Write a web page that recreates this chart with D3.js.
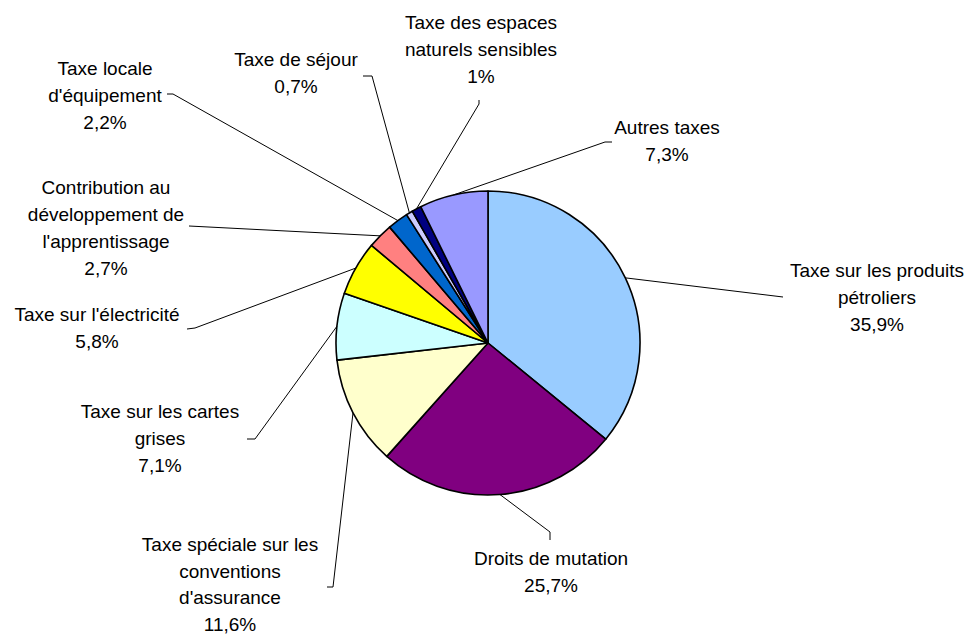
<!DOCTYPE html>
<html><head><meta charset="utf-8">
<script src="https://cdn.jsdelivr.net/npm/d3@7"></script>
<style>
html,body{margin:0;padding:0;background:#fff;}
svg text{font-family:"Liberation Sans",Arial,sans-serif;font-size:19px;fill:#000;}
</style></head>
<body><svg id="c" width="971" height="635"></svg>
<script>
const categories = [
  "Taxe sur les produits pétroliers",
  "Droits de mutation",
  "Taxe spéciale sur les conventions d'assurance",
  "Taxe sur les cartes grises",
  "Taxe sur l'électricité",
  "Contribution au développement de l'apprentissage",
  "Taxe locale d'équipement",
  "Taxe de séjour",
  "Taxe des espaces naturels sensibles",
  "Autres taxes"
];
const values = [35.9, 25.7, 11.6, 7.1, 5.8, 2.7, 2.2, 0.7, 1, 7.3];
const valueLabels = ["35,9%","25,7%","11,6%","7,1%","5,8%","2,7%","2,2%","0,7%","1%","7,3%"];
const colors = ["#99CCFF","#800080","#FFFFCC","#CCFFFF","#FFFF00","#FF8080","#0066CC","#CCCCFF","#000080","#9999FF"];

// label layout: wrapped name lines, text center x, first baseline y, leader elbow & stub end
const labelLines = [
  ["Taxe sur les produits","pétroliers"],
  ["Droits de mutation"],
  ["Taxe spéciale sur les","conventions","d'assurance"],
  ["Taxe sur les cartes","grises"],
  ["Taxe sur l'électricité"],
  ["Contribution au","développement de","l'apprentissage"],
  ["Taxe locale","d'équipement"],
  ["Taxe de séjour"],
  ["Taxe des espaces","naturels sensibles"],
  ["Autres taxes"]
];
const labelPos = [
  {x:877,y:277, elbow:[783,297], end:[783,297]},
  {x:551,y:565, elbow:[550,532], end:[550,540]},
  {x:230,y:551, lh:26.7, elbow:[333,587], end:[327,587]},
  {x:160,y:418, elbow:[255,439], end:[247,439]},
  {x:97, y:321, elbow:[195,328], end:[187,329]},
  {x:106,y:194, elbow:[189,226], end:[189,226]},
  {x:105,y:75,  elbow:[173,94],  end:[167,94]},
  {x:296,y:66,  elbow:[372,76],  end:[363,76]},
  {x:481,y:29,  elbow:[479,104], end:[479,100]},
  {x:667,y:134, elbow:[605,142], end:[612,142]}
];

const cx = 488, cy = 343, R = 152, lineH = 27;
const svg = d3.select("#c");
const pie = d3.pie().sort(null).value(d=>d)(values);
const arc = d3.arc().innerRadius(0).outerRadius(R);
const g = svg.append("g").attr("transform",`translate(${cx},${cy})`);
g.selectAll("path.slice").data(pie).join("path")
  .attr("class","slice")
  .attr("d",arc)
  .attr("fill",(d,i)=>colors[i])
  .attr("stroke","#000").attr("stroke-width",1.6).attr("stroke-linejoin","round");

// leaders
pie.forEach((d,i)=>{
  const a = (d.startAngle+d.endAngle)/2;
  const p0 = [cx + R*Math.sin(a), cy - R*Math.cos(a)];
  const lp = labelPos[i];
  svg.append("path")
    .attr("d", d3.line()([p0, lp.elbow, lp.end]))
    .attr("fill","none").attr("stroke","#000").attr("stroke-width",1);
});

// labels
labelPos.forEach((lp,i)=>{
  const lines = labelLines[i].concat([valueLabels[i]]);
  const t = svg.append("text").attr("text-anchor","middle");
  const lh = lp.lh || lineH;
  lines.forEach((s,k)=>{
    t.append("tspan").attr("x",lp.x).attr("y",lp.y + k*lh).text(s);
  });
});
</script></body></html>
